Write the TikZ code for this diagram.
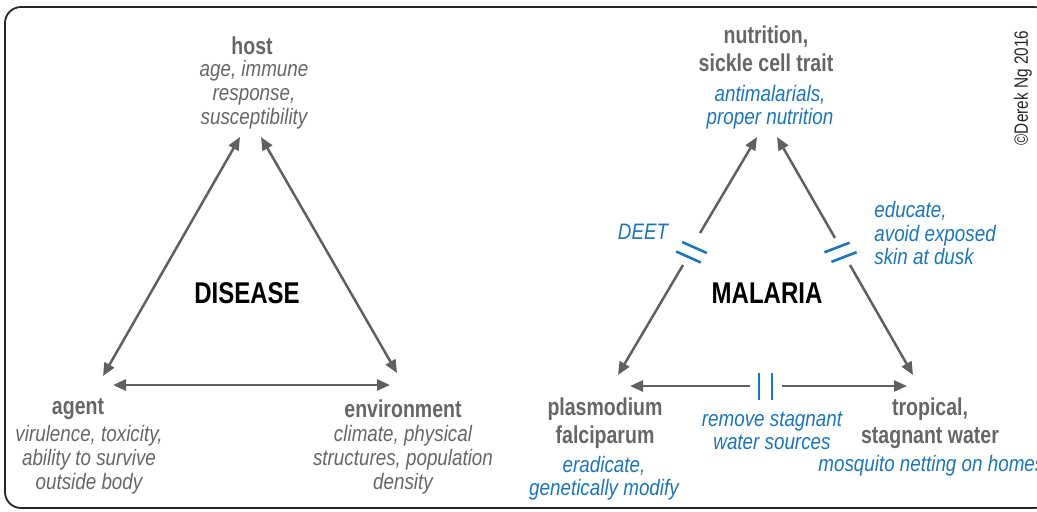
\documentclass[tikz,border=0pt]{standalone}
\usepackage{fontspec}
\setmainfont{Liberation Sans}[FakeStretch=0.8,ItalicFeatures={FakeStretch=0.84}]
\usepackage{tikz}
\usetikzlibrary{arrows.meta,positioning,shapes}
\definecolor{txtgray}{HTML}{666666}
\definecolor{arrgray}{HTML}{606060}
\definecolor{cureblue}{HTML}{1B75BB}

\begin{document}
\begin{tikzpicture}[x=0.5pt,y=-0.5pt,
  head/.style={inner sep=0,align=center,text=txtgray,font=\fontsize{12.2}{13.8}\selectfont\bfseries},
  desc/.style={inner sep=0,align=center,text=txtgray,font=\fontsize{11.2}{12}\selectfont\itshape},
  cure/.style={inner sep=0,align=center,text=cureblue,font=\fontsize{11.2}{11.8}\selectfont\itshape},
  big/.style={inner sep=0,font=\fontsize{15}{16}\selectfont\bfseries},
  link/.style={arrgray,line width=1.25pt,-{Triangle[length=6.5pt,width=5.5pt]}},
  both/.style={link,{Triangle[length=6.5pt,width=5.5pt]}-{Triangle[length=6.5pt,width=5.5pt]}},
  cut/.style={draw=none,fill=cureblue,inner sep=0,minimum width=13.5pt,minimum height=1.3pt}]
\useasboundingbox (0,0) rectangle (1037,511);
\draw[line width=0.9pt,color=black!85,rounded corners=8pt] (5,7) rectangle (1050,508);

\node[head] (host) at (252,46) {host};
\node[desc] (hostd) at (254,95) {age, immune\\response,\\susceptibility};
\node[head] (agent) at (78,409) {agent};
\node[desc] (agentd) at (89,460) {virulence, toxicity,\\ability to survive\\outside body};
\node[head] (env) at (403,409) {environment};
\node[desc] (envd) at (403,460) {climate, physical\\structures, population\\density};
\node[big] (disease) at (247,293) {DISEASE};
\coordinate (hostA) at (240,137);
\coordinate (hostB) at (261,137);
\coordinate (agentT) at (103,376);
\coordinate (agentR) at (113,385);
\coordinate (envT) at (397,373);
\coordinate (envL) at (390,385);
\draw[both] (hostA) -- (agentT);
\draw[both] (hostB) -- (envT);
\draw[both] (agentR) -- (envL);

\node[head] (nutr) at (766,49) {nutrition,\\sickle cell trait};
\node[cure] (nutrd) at (770,107) {antimalarials,\\proper nutrition};
\node[head] (plas) at (605,423) {plasmodium\\falciparum};
\node[cure] (plasd) at (604,478) {eradicate,\\genetically modify};
\node[head] (trop) at (930,423) {tropical,\\stagnant water};
\node[cure,anchor=west] (tropd) at (818,466) {mosquito netting on homes};
\node[cure] (water) at (772,431) {remove stagnant\\water sources};
\node[cure] (deet) at (643,232) {DEET};
\node[cure,align=left,anchor=west] (educ) at (874,233) {educate,\\avoid exposed\\skin at dusk};
\node[big] (malaria) at (767,293) {MALARIA};
\node[inner sep=0,rotate=90,text=black!85,font=\fontsize{9.6}{10}\selectfont] (copy) at (1023,88) {©Derek Ng 2016};
\coordinate (nutrA) at (757,137);
\coordinate (nutrB) at (777,137);
\coordinate (gapLu) at (700,233);
\coordinate (gapLd) at (683,265);
\coordinate (gapRu) at (835,238);
\coordinate (gapRd) at (850,265);
\coordinate (gapBl) at (750,386);
\coordinate (gapBr) at (782,386);
\coordinate (plasT) at (618,375);
\coordinate (plasR) at (630,386);
\coordinate (tropT) at (913,375);
\coordinate (tropL) at (907,386);
\draw[link] (gapLu) -- (nutrA);
\draw[link] (gapLd) -- (plasT);
\draw[link] (gapRu) -- (nutrB);
\draw[link] (gapRd) -- (tropT);
\draw[link] (gapBl) -- (plasR);
\draw[link] (gapBr) -- (tropL);
\node[cut,rotate=-24] (cutL1) at (694.5,247.5) {};
\node[cut,rotate=-24] (cutL2) at (688.5,257) {};
\node[cut,rotate=21] (cutR1) at (837,247.5) {};
\node[cut,rotate=21] (cutR2) at (844,257) {};
\node[cut,rotate=90] (cutB1) at (759,386) {};
\node[cut,rotate=90] (cutB2) at (772,386) {};
\end{tikzpicture}
\end{document}
